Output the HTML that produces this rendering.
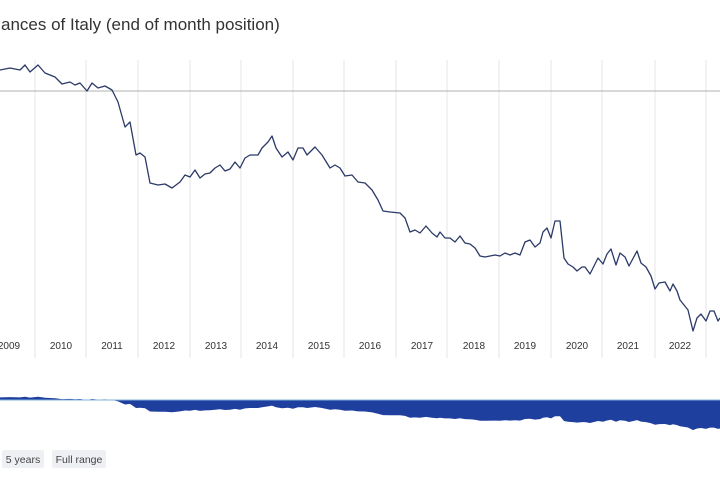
<!DOCTYPE html>
<html><head><meta charset="utf-8"><style>
body{margin:0;width:720px;height:480px;background:#fff;overflow:hidden;font-family:"Liberation Sans",sans-serif}
</style></head><body>
<svg width="720" height="480" xmlns="http://www.w3.org/2000/svg" font-family="Liberation Sans, sans-serif">
<text x="1" y="30" font-size="17" fill="#333">ances of Italy (end of month position)</text>
<g stroke="#e6e6e6" stroke-width="1">
<line x1="35" y1="60" x2="35" y2="358"/><line x1="86" y1="60" x2="86" y2="358"/><line x1="138" y1="60" x2="138" y2="358"/><line x1="190" y1="60" x2="190" y2="358"/><line x1="241" y1="60" x2="241" y2="358"/><line x1="293" y1="60" x2="293" y2="358"/><line x1="344" y1="60" x2="344" y2="358"/><line x1="396" y1="60" x2="396" y2="358"/><line x1="447" y1="60" x2="447" y2="358"/><line x1="499" y1="60" x2="499" y2="358"/><line x1="551" y1="60" x2="551" y2="358"/><line x1="602" y1="60" x2="602" y2="358"/><line x1="655" y1="60" x2="655" y2="358"/><line x1="706" y1="60" x2="706" y2="358"/>
</g>
<line x1="0" y1="91" x2="720" y2="91" stroke="#b0b0b0" stroke-width="1"/>
<g font-size="10" fill="#333" text-anchor="middle">
<text x="9" y="349">2009</text><text x="61" y="349">2010</text><text x="112" y="349">2011</text><text x="164" y="349">2012</text><text x="216" y="349">2013</text><text x="267" y="349">2014</text><text x="319" y="349">2015</text><text x="370" y="349">2016</text><text x="422" y="349">2017</text><text x="474" y="349">2018</text><text x="525" y="349">2019</text><text x="577" y="349">2020</text><text x="628" y="349">2021</text><text x="680" y="349">2022</text>
</g>
<polyline id="s" fill="none" stroke="#2b3a67" stroke-width="1.3" stroke-linejoin="round" points=""/>
<path id="nav" fill="#1f3f9e" d=""/>
<line x1="0" y1="400" x2="720" y2="400" stroke="#7fb0e0" stroke-width="1"/>
<rect x="2" y="450" width="42" height="18" rx="2" fill="#eef0f4"/>
<text x="23" y="463" font-size="10.5" fill="#444" text-anchor="middle">5 years</text>
<rect x="52" y="450" width="54" height="18" rx="2" fill="#eef0f4"/>
<text x="79" y="463" font-size="10.5" fill="#444" text-anchor="middle">Full range</text>
</svg>
<script>
var p=[[0,70],[10,68],[20,70],[25,65],[30,72],[38,65],[45,73],[55,77],[62,84],[70,82],[75,85],[80,83],[87,91],[92,83],[98,88],[105,86],[112,90],[118,102],[125,127],[130,122],[136,155],[140,153],[145,157],[150,183],[158,185],[165,184],[172,188],[180,182],[185,175],[190,177],[195,170],[200,178],[205,174],[210,173],[215,168],[220,165],[225,171],[230,169],[235,162],[240,168],[245,158],[250,155],[258,155],[262,148],[268,142],[272,136],[276,148],[282,157],[288,152],[293,160],[298,148],[303,148],[307,155],[315,147],[322,155],[330,168],[335,165],[340,168],[345,176],[352,175],[358,182],[365,183],[372,190],[378,200],[383,211],[390,212],[400,213],[405,218],[410,232],[415,230],[420,233],[426,226],[432,233],[437,237],[440,232],[445,238],[450,238],[455,242],[460,236],[465,243],[470,244],[475,248],[480,256],[485,257],[495,255],[500,256],[505,253],[510,255],[515,253],[520,255],[525,242],[530,240],[535,247],[540,243],[543,232],[547,228],[551,238],[555,221],[560,221],[564,258],[568,264],[573,267],[577,271],[582,267],[585,267],[590,274],[598,258],[603,264],[607,254],[611,249],[616,265],[620,253],[625,257],[629,266],[637,251],[641,263],[646,267],[651,276],[655,289],[659,283],[665,282],[670,291],[673,284],[677,291],[680,300],[688,310],[693,331],[697,318],[701,314],[706,321],[710,311],[714,311],[718,321],[720,318]];
document.getElementById('s').setAttribute('points',p.map(function(a){return a.join(',')}).join(' '));
var d='M0,400 '+p.map(function(a){return 'L'+a[0]+','+(400+(a[1]-91)*0.1255).toFixed(1)}).join(' ')+' L720,400 Z';
document.getElementById('nav').setAttribute('d',d);
</script>
</body></html>
